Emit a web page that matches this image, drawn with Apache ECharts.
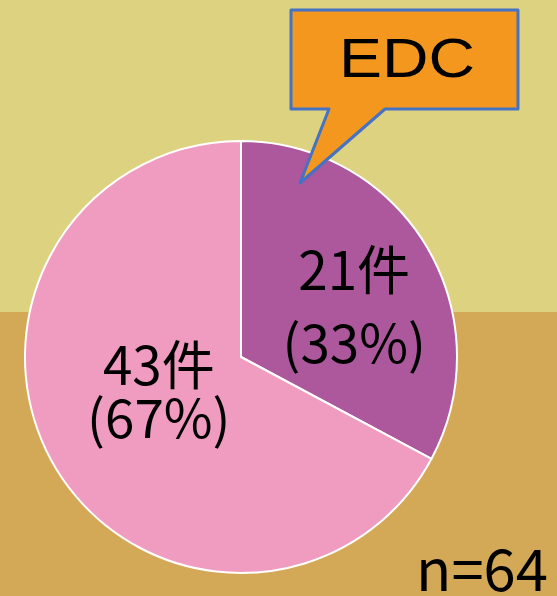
<!DOCTYPE html>
<html>
<head>
<meta charset="utf-8">
<script src="https://cdn.jsdelivr.net/npm/echarts@6/dist/echarts.min.js"></script>
<style>
  html, body { margin: 0; padding: 0; }
  #chart { width: 557px; height: 596px; }
</style>
</head>
<body>
<div id="chart"></div>
<script>
const categories = ['EDC', 'その他']
const counts = [21, 43]
const percents = [33, 67]
const total = 64

const labelFont = '"Noto Sans CJK JP", sans-serif'

const chart = echarts.init(document.getElementById('chart'))
chart.setOption({
  animation: false,
  graphic: [
    { type: 'rect', z: 0, shape: { x: 0, y: 0, width: 557, height: 312 }, style: { fill: '#ddd27f' } },
    { type: 'rect', z: 0, shape: { x: 0, y: 312, width: 557, height: 284 }, style: { fill: '#d3a957' } },
    {
      type: 'polygon', z: 10,
      shape: { points: [[291, 10], [518, 10], [518, 109], [385, 109], [300, 183], [329, 109], [291, 109]] },
      style: { fill: '#f3971e', stroke: '#4472c4', lineWidth: 3, lineJoin: 'round' }
    },
    {
      type: 'text', z: 11, x: 407, y: 62, scaleX: 1.15,
      style: { text: categories[0], font: '56px "Liberation Sans", Arial, sans-serif', fill: '#000', align: 'center', verticalAlign: 'middle' }
    },
    {
      type: 'text', z: 11, x: 482, y: 569,
      style: { text: 'n=' + total, font: '58px ' + labelFont, fill: '#000', align: 'center', verticalAlign: 'middle' }
    }
  ],
  series: [{
    type: 'pie',
    center: [241, 357],
    radius: 216,
    startAngle: 90,
    clockwise: true,
    z: 5,
    itemStyle: { borderColor: '#fff', borderWidth: 2 },
    label: {
      show: true,
      position: 'inside',
      color: '#000',
      fontSize: 53,
      fontFamily: labelFont,
      formatter: p => counts[p.dataIndex] + '件\n(' + percents[p.dataIndex] + '%)'
    },
    labelLayout: p => (p.dataIndex === 0 ? { dx: 18, dy: 6 } : { dx: 13, dy: -23 }),
    labelLine: { show: false },
    data: categories.map((c, i) => ({
      name: c,
      value: counts[i],
      label: { lineHeight: i === 0 ? 73 : 53 },
      itemStyle: { color: i === 0 ? '#ad589d' : '#f09bc0' }
    }))
  }]
})
</script>
</body>
</html>
